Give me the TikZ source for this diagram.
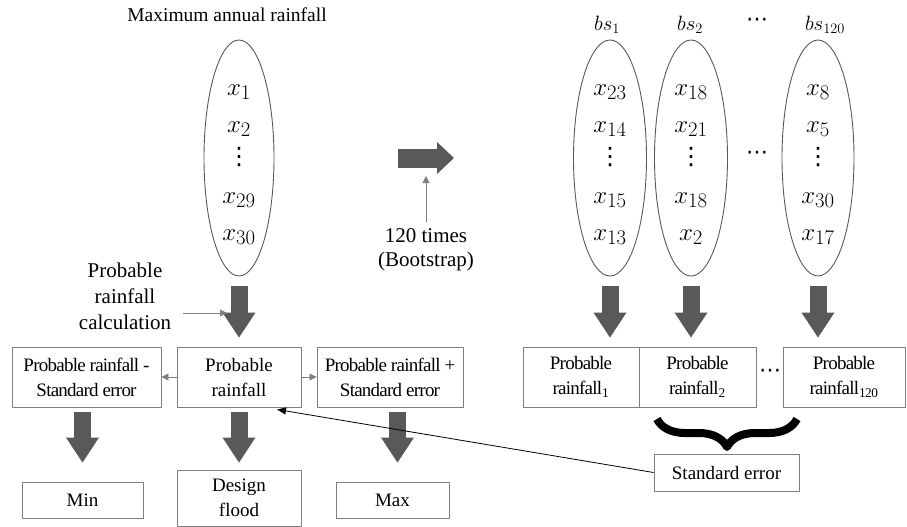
\documentclass[tikz,border=0pt]{standalone}
\usepackage{fontspec}
\setmainfont{Liberation Serif}
\newfontfamily\symfont{DejaVu Sans}
\usetikzlibrary{arrows.meta}
\usetikzlibrary{positioning}
\usetikzlibrary{shapes.geometric}
\usetikzlibrary{decorations.pathreplacing}
\definecolor{fatgray}{HTML}{595959}
\definecolor{linkgray}{HTML}{7F7F7F}

\begin{document}
\begin{tikzpicture}[x=1pt,y=-1pt,line join=round,
  box/.style={draw=linkgray,line width=0.9pt,inner sep=0pt,align=center,font=\fontsize{19}{25}\selectfont},
  squeezed/.style={box,font=\fontsize{19}{25}\selectfont\addfontfeature{LetterSpace=-4}},
  sample/.style={ellipse,draw=fatgray,line width=0.9pt,minimum width=70,minimum height=236,inner sep=0pt},
  val/.style={anchor=base,inner sep=0pt,font=\fontsize{30}{32}\selectfont},
  dots/.style={inner sep=0pt,font=\fontsize{22}{24}\symfont},
  fat/.style={draw=fatgray,line width=17pt,-{Triangle[width=33pt,length=25pt,line width=0pt]}},
  graylink/.style={draw=linkgray,line width=0.8pt,-{Triangle[width=7pt,length=7pt]}},
  blacklink/.style={draw=black,line width=0.8pt,-{Triangle[width=7pt,length=9pt]}},
  brace/.style={decorate,decoration={brace,amplitude=28pt},line width=8pt}]
\useasboundingbox (0,0) rectangle (907,527);

\node[font=\fontsize{19.5}{22}\selectfont] (title) at (227,15) {Maximum annual rainfall};
\node[sample] (e0) at (239,158) {};
\node[sample,minimum width=73] (e1) at (610,158) {};
\node[sample,minimum width=73] (e2) at (691,158) {};
\node[sample,minimum width=72] (e3) at (818,158) {};
\node[font=\fontsize{20}{22}\selectfont] (bs1) at (607,25) {$bs_1$};
\node[font=\fontsize{20}{22}\selectfont] (bs2) at (690,25) {$bs_2$};
\node[font=\fontsize{20}{22}\selectfont] (bs3) at (825,25) {$bs_{120}$};
\node[dots] (dtop) at (757,22) {⋯};
\node[dots] (dmid) at (757,155) {⋯};

\foreach \e/\a/\b/\c/\d in {e0/1/2/29/30,e1/23/14/15/13,e2/18/21/18/2,e3/8/5/30/17}{
  \node[val] (\e-a) at ([shift={(0,-63)}]\e.center) {$x_{\a}$};
  \node[val] (\e-b) at ([shift={(0,-26)}]\e.center) {$x_{\b}$};
  \node[dots,font=\fontsize{24}{26}\symfont] (\e-v) at ([shift={(0,-1)}]\e.center) {⋮};
  \node[val] (\e-c) at ([shift={(0,45)}]\e.center) {$x_{\c}$};
  \node[val] (\e-d) at ([shift={(0,82)}]\e.center) {$x_{\d}$};
}

\node[squeezed,minimum width=149,minimum height=60] (lo) at (86.5,377) {Probable rainfall -\\Standard error};
\node[box,minimum width=124,minimum height=60] (pr) at (239,377) {Probable\\rainfall};
\node[squeezed,minimum width=146,minimum height=60] (hi) at (390,377) {Probable rainfall +\\Standard error};
\node[box,minimum width=121,minimum height=36] (min) at (82.5,500) {Min};
\node[box,minimum width=124,minimum height=56] (flood) at (239,498) {Design\\flood};
\node[box,minimum width=113,minimum height=36] (max) at (392.5,500) {Max};
\node[squeezed,minimum width=116,minimum height=60] (pr1) at (581,377) {Probable\\rainfall\textsubscript{1}};
\node[squeezed,minimum width=117,minimum height=60] (pr2) at (697.5,377) {Probable\\rainfall\textsubscript{2}};
\node[squeezed,minimum width=122,minimum height=60] (pr3) at (844,377) {Probable\\rainfall\textsubscript{120}};
\node[dots] (dbox) at (770,373) {⋯};
\node[box,minimum width=145,minimum height=37] (se) at (726.5,472.5) {Standard error};

\node[align=center,font=\fontsize{21}{26}\selectfont] (calc) at (125,296) {Probable\\rainfall\\calculation};
\node[align=center,font=\fontsize{21}{24}\selectfont] (times) at (426,250) {120 times\\(Bootstrap)};

\coordinate (bigl) at (398,158);
\coordinate (bigr) at (454,158);
\coordinate (boottip) at (426,176);
\coordinate (calctip) at (227,313);
\coordinate (brl) at (657,419);
\coordinate (brr) at (797,419);

\draw[fat,line width=19pt,-{Triangle[width=32pt,length=17pt,line width=0pt]}] (bigl) -- (bigr);
\draw[fat,shorten <=10pt,shorten >=9pt] (e0) -- (pr);
\foreach \e/\b in {e1/pr1,e2/pr2,e3/pr3}
  \draw[fat,shorten <=10pt,shorten >=9pt] (\e.south) -- (\e.south |- \b.north);
\draw[fat,shorten <=5pt,shorten >=19pt] (min.north |- lo.south) -- (min.north);
\draw[fat,shorten <=5pt,shorten >=7pt] (pr) -- (flood);
\draw[fat,shorten <=5pt,shorten >=19pt] ([xshift=5]max.north |- hi.south) -- ([xshift=5]max.north);

\draw[graylink] (pr) -- (lo);
\draw[graylink] (pr) -- (hi);
\draw[graylink,shorten <=3pt] (times) -- (boottip);
\draw[graylink] ([shift={(8,17)}]calc.east) -- (calctip);
\draw[blacklink] (se.west) -- ([shift={(38,2)}]pr.south);
\draw[brace] (brr) -- (brl);
\end{tikzpicture}
\end{document}
